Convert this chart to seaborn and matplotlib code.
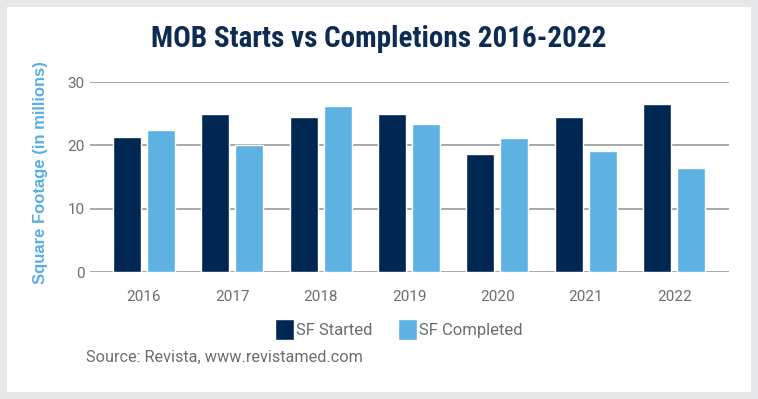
import matplotlib
matplotlib.use("Agg")
import matplotlib.pyplot as plt
from matplotlib.patches import Rectangle, Patch
import seaborn as sns
import pandas as pd

# chart data
years = ["2016", "2017", "2018", "2019", "2020", "2021", "2022"]
sf_started = [21.3, 25.0, 24.5, 25.0, 18.6, 24.5, 26.5]
sf_completed = [22.5, 20.0, 26.2, 23.4, 21.1, 19.1, 16.4]
series_names = ["SF Started", "SF Completed"]
y_ticks = [0, 10, 20, 30]

dark = "#002652"
light = "#5eb1e3"
grey_txt = "#6a6e72"

df = pd.DataFrame({
    "Year": years * 2,
    "Value": sf_started + sf_completed,
    "Series": [series_names[0]] * len(years) + [series_names[1]] * len(years),
})

sns.set_theme(style="white")
plt.rcParams["font.family"] = ["Roboto", "DejaVu Sans"]

fig = plt.figure(figsize=(7.58, 3.99), dpi=100, facecolor="#e6e7e8")
# white card inside the grey frame
fig.patches.append(Rectangle((7 / 758, 7 / 399), 744 / 758, 385 / 399,
                             transform=fig.transFigure, facecolor="white",
                             edgecolor="none", zorder=-5))

ax = fig.add_axes([90 / 758, 127 / 399, 639 / 758, 190 / 399])
ax.set_facecolor("none")
ax.set_zorder(2)

sns.barplot(data=df, x="Year", y="Value", hue="Series",
            palette={series_names[0]: dark, series_names[1]: light},
            width=0.77, gap=0.177, saturation=1, ax=ax, zorder=3,
            legend=False, errorbar=None)

ax.set_ylim(0, 30)
ax.set_xlim(-0.61, 6.62)
ax.set_yticks(y_ticks)
for t in y_ticks:
    ax.axhline(t, color="#a6a9ab", lw=1.4, zorder=1)
for s in ax.spines.values():
    s.set_visible(False)
ax.tick_params(axis="both", length=0, labelsize=11, labelcolor=grey_txt)
ax.tick_params(axis="x", pad=13)
ax.tick_params(axis="y", pad=4)
ax.set_xlabel("")
ax.set_ylabel("")

fig.text(0.5, 0.902, "MOB Starts vs Completions 2016-2022",
         ha="center", va="center", fontsize=21, fontweight="bold",
         color="#0e2b54",
         family=["Roboto Condensed", "Liberation Sans Narrow", "Roboto"])
fig.text(0.053, 0.568, "Square Footage (in millions)", rotation=90,
         ha="center", va="center", fontsize=12, fontweight="bold",
         color="#5aafe2", family=["Liberation Sans", "DejaVu Sans"])

handles = [Patch(facecolor=dark, label=series_names[0]),
           Patch(facecolor=light, label=series_names[1])]
leg = fig.legend(handles=handles, loc="center", bbox_to_anchor=(0.526, 0.175),
                 ncol=2, frameon=False, fontsize=12, handlelength=1.15,
                 handleheight=1.55, handletextpad=0.15, columnspacing=1.5)
for t in leg.get_texts():
    t.set_color(grey_txt)

fig.text(86 / 758, 0.105, "Source: Revista, www.revistamed.com",
         ha="left", va="center", fontsize=11.7, color=grey_txt)

fig.savefig("out.png", dpi=100, facecolor=fig.get_facecolor())
